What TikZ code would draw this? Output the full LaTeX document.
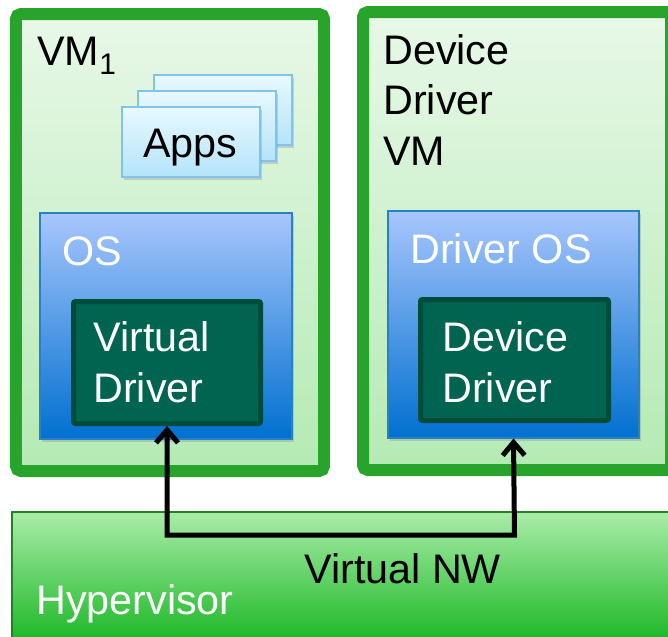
\documentclass[tikz,border=0pt]{standalone}
\usepackage{fontspec}
\setmainfont{Liberation Sans}
\usetikzlibrary{arrows.meta,shadows}

\definecolor{vmgreen}{RGB}{40,164,44}
\definecolor{vmtop}{RGB}{232,248,232}
\definecolor{vmbot}{RGB}{180,234,180}
\definecolor{hvtop}{RGB}{170,236,168}
\definecolor{hvbot}{RGB}{30,184,40}
\definecolor{ostop}{RGB}{168,198,252}
\definecolor{osbot}{RGB}{0,112,208}
\definecolor{osline}{RGB}{40,128,200}
\definecolor{drvfill}{RGB}{0,100,80}
\definecolor{drvline}{RGB}{0,76,58}
\definecolor{apptop}{RGB}{232,248,255}
\definecolor{appbot}{RGB}{180,228,250}
\definecolor{appline}{RGB}{128,196,236}

\begin{document}
\begin{tikzpicture}[
	every node/.style={inner sep=0pt, font=\fontsize{23.5}{28.5}\selectfont},
	vmbox/.style={draw=vmgreen, line width=0.24cm, rounded corners=0.1cm, top color=vmtop, bottom color=vmbot},
	hvbox/.style={draw=vmgreen!80!black, line width=0.6pt, top color=hvtop, bottom color=hvbot},
	osbox/.style={draw=osline, line width=0.6pt, top color=ostop, bottom color=osbot, drop shadow={opacity=0.3, shadow xshift=0.04cm, shadow yshift=-0.06cm}},
	drvbox/.style={draw=drvline, line width=0.1cm, fill=drvfill, rounded corners=0.04cm},
	appbox/.style={draw=appline, line width=0.8pt, top color=apptop, bottom color=appbot, minimum width=2.76cm, minimum height=1.4cm, drop shadow={opacity=0.3, shadow xshift=0.03cm, shadow yshift=-0.05cm}},
	label/.style={anchor=base west, align=left},
	netline/.style={line width=0.1cm, {Straight Barb[length=2.6mm,width=4.4mm]}-{Straight Barb[length=2.6mm,width=4.4mm]}}
	]
	\useasboundingbox (0,0) rectangle (13.36,-12.72);
	
	% hypervisor and the two VMs
	\node[hvbox, minimum width=13.36cm, minimum height=2.56cm] (hyp) at (6.92,-11.52) {};
	\node[vmbox, minimum width=6.16cm, minimum height=9.14cm] (vmone) at (3.40,-4.85) {};
	\node[vmbox, minimum width=6.16cm, minimum height=9.16cm] (ddvm) at (10.34,-4.82) {};
	
	% apps stack
	\foreach \x/\y in {4.46/-2.20, 4.14/-2.52}
	\node[appbox] at (\x,\y) {};
	\node[appbox] (apps) at (3.82,-2.84) {};
	
	% OS boxes with drivers
	\node[osbox, minimum width=5.04cm, minimum height=4.52cm] (os) at (3.32,-6.52) {};
	\node[osbox, minimum width=5.02cm, minimum height=4.54cm] (ddos) at (10.27,-6.49) {};
	\node[drvbox, minimum width=3.74cm, minimum height=2.44cm] (vd) at (3.34,-7.25) {};
	\node[drvbox, minimum width=3.76cm, minimum height=2.42cm] (dd) at (10.29,-7.20) {};
	
	% texts (base = last line)
	\node[label] (vmonetxt) at (0.74,-1.30) {VM\raisebox{-0.45ex}{\fontsize{17}{17}\selectfont 1}};
	\node[label] (ddvmtxt) at (7.66,-3.30) {Device\\Driver\\VM};
	\node[label] (appstxt) at (2.86,-3.14) {Apps};
	\node[label, text=white] (ostxt) at (1.24,-5.30) {OS};
	\node[label, text=white] (ddostxt) at (8.20,-5.26) {Driver OS};
	\node[label, text=white] (vdtxt) at (1.86,-8.04) {Virtual\\Driver};
	\node[label, text=white] (ddtxt) at (8.84,-8.04) {Device\\Driver};
	\node[label] (nwtxt) at (6.08,-11.66) {Virtual NW};
	\node[label, text=white] (hyptxt) at (0.72,-12.28) {Hypervisor};
	
	% virtual network
	\coordinate (nw) at (0,-10.70);
	\draw[netline] (vd.south) |- (nw -| dd.south) -- (ddos.south);
\end{tikzpicture}
\end{document}
